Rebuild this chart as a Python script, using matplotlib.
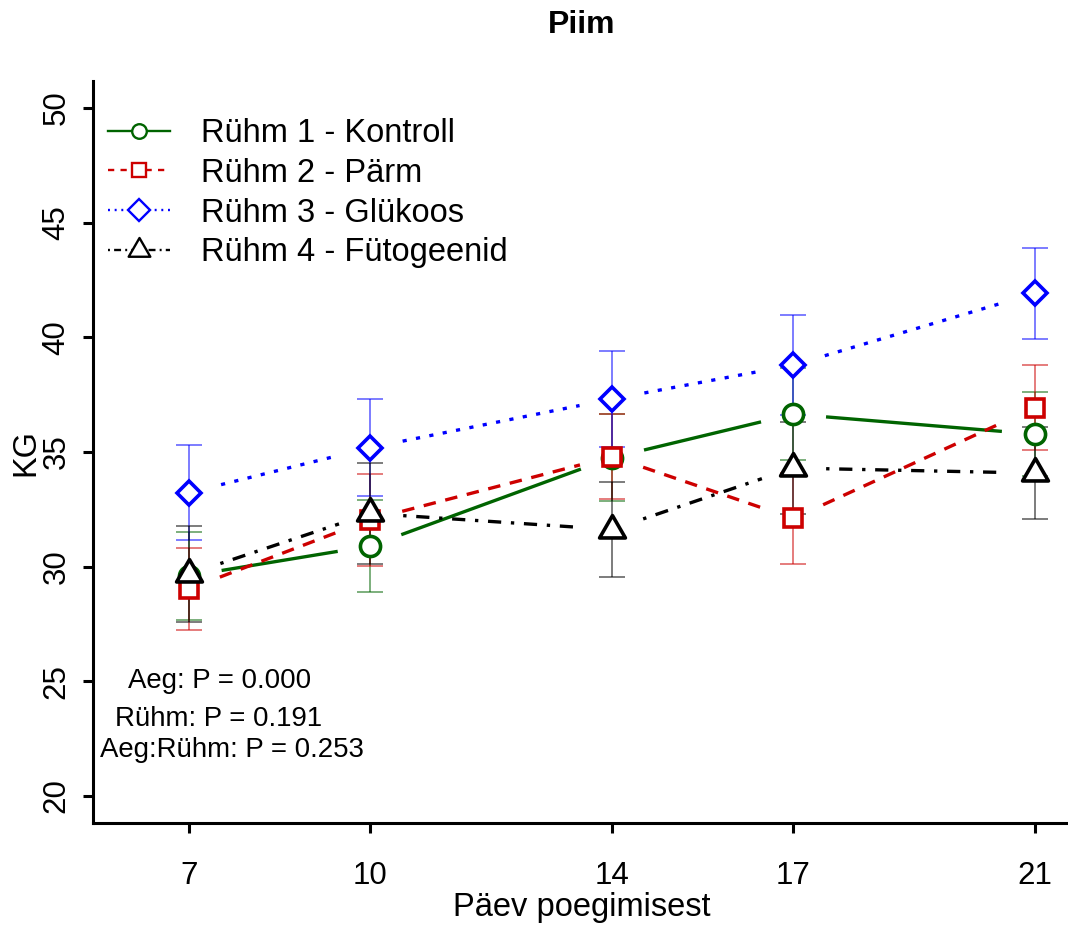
import matplotlib
matplotlib.use("Agg")
import matplotlib.pyplot as plt
from matplotlib.lines import Line2D
from matplotlib.path import Path
import numpy as np

plt.rcParams['font.family'] = ['Liberation Sans', 'DejaVu Sans']
plt.rcParams['lines.scale_dashes'] = False

# Andmed
paevad = [7, 10, 14, 17, 21]
ruhm1 = [29.60, 30.90, 34.75, 36.65, 35.78]
ruhm1_se = [1.92, 2.02, 1.90, 2.00, 1.83]
ruhm2 = [29.03, 32.05, 34.80, 32.10, 36.93]
ruhm2_se = [1.78, 2.00, 1.86, 2.00, 1.86]
ruhm3 = [33.23, 35.19, 37.31, 38.79, 41.92]
ruhm3_se = [2.07, 2.10, 2.11, 2.17, 1.99]
ruhm4 = [29.68, 32.32, 31.62, 34.30, 34.08]
ruhm4_se = [2.09, 2.20, 2.08, 2.00, 2.00]
nimed = ['Rühm 1 - Kontroll', 'Rühm 2 - Pärm', 'Rühm 3 - Glükoos', 'Rühm 4 - Fütogeenid']
p_tekstid = ['Aeg: P = 0.000', 'Rühm: P = 0.191', 'Aeg:Rühm: P = 0.253']

# R-stiilis võrdkülgne kolmnurk (keskpunkt ümberringjoone keskel)
kolmnurk = Path([(0, 1), (-0.866, -0.5), (0.866, -0.5), (0, 1)],
                [Path.MOVETO, Path.LINETO, Path.LINETO, Path.CLOSEPOLY])

rühmad = [
    (ruhm1, ruhm1_se, '#006400', 'o', 14.5, '-'),
    (ruhm2, ruhm2_se, '#CD0000', 's', 12.8, (0, (9, 7))),
    (ruhm3, ruhm3_se, '#0000FF', 'D', 12.5, (0, (3, 6.8))),
    (ruhm4, ruhm4_se, '#000000', kolmnurk, 21.5, (0, (2.4, 7, 9.5, 7))),
]

fig = plt.figure(figsize=(10.68, 9.27), dpi=100)
W, H = 1068, 927
ax = fig.add_axes([93 / W, 1 - 823 / H, 1 - 93 / W, (823 - 81) / H])
ax.set_xlim(5.41, 21.55)
ax.set_ylim(18.82, 51.18)

# vearibad
for y, se, col, m, ms, ls in rühmad:
    ax.errorbar(paevad, y, yerr=se, fmt='none', ecolor=col, elinewidth=1.1,
                capsize=9.5, capthick=1.1, alpha=0.65, zorder=2)

# jooned vahedega (type = "b")
vahe = 33
tr = ax.transData
for y, se, col, m, ms, ls in rühmad:
    pts = tr.transform(np.column_stack([paevad, y]))
    for i in range(len(pts) - 1):
        a, b = pts[i], pts[i + 1]
        d = b - a
        L = np.hypot(*d)
        u = d / L
        seg = tr.inverted().transform(np.vstack([a + u * vahe, b - u * vahe]))
        ax.plot(seg[:, 0], seg[:, 1], color=col, lw=2.4, linestyle=ls,
                solid_capstyle='butt', dash_capstyle='butt', zorder=3)
    ax.plot(paevad, y, linestyle='none', marker=m, markersize=ms,
            markerfacecolor='white', markeredgecolor=col, markeredgewidth=2.6,
            zorder=4)

ax.spines['top'].set_visible(False)
ax.spines['right'].set_visible(False)
for s in ['left', 'bottom']:
    ax.spines[s].set_linewidth(2.2)
ax.set_xticks(paevad)
ax.set_yticks(range(20, 51, 5))
ax.tick_params(axis='both', labelsize=22.5, width=2.2, length=7.5)
ax.tick_params(axis='x', pad=20)
ax.tick_params(axis='y', pad=8)
for lab in ax.get_yticklabels():
    lab.set_rotation(90)
    lab.set_va('center')

# legend
leg_handles = [
    Line2D([], [], color='#006400', lw=1.7, marker='o', markersize=10.5,
           markerfacecolor='white', markeredgewidth=1.7),
    Line2D([], [], color='#CD0000', lw=1.7, linestyle=(0, (4.5, 4.5)), marker='s', markersize=10,
           markerfacecolor='white', markeredgewidth=1.7),
    Line2D([], [], color='#0000FF', lw=1.7, linestyle=(0, (1.4, 3.4)), marker='D', markersize=11,
           markerfacecolor='white', markeredgewidth=1.7),
    Line2D([], [], color='#000000', lw=1.7, linestyle=(0, (1.4, 3, 5, 3)), marker=kolmnurk,
           markersize=18, markerfacecolor='white', markeredgewidth=1.7),
]
fig.legend(leg_handles, nimed, loc='upper left', bbox_to_anchor=(108 / W, 1 - 118 / H),
           frameon=False, fontsize=23.5, borderpad=0, borderaxespad=0,
           handlelength=1.9, handletextpad=0.95, labelspacing=0.27)

# P-väärtused
fig.text(220 / W, 1 - 688 / H, p_tekstid[0], fontsize=19.9, ha='center', va='baseline')
fig.text(219 / W, 1 - 726 / H, p_tekstid[1], fontsize=19.9, ha='center', va='baseline')
fig.text(232 / W, 1 - 757 / H, p_tekstid[2], fontsize=19.9, ha='center', va='baseline')

fig.text(582 / W, 1 - 33 / H, 'Piim', fontsize=23, fontweight='bold', ha='center', va='baseline')
fig.text(582 / W, 1 - 916 / H, 'Päev poegimisest', fontsize=23.5, ha='center', va='baseline')
fig.text(26 / W, 1 - 452 / H, 'KG', fontsize=23.5, rotation=90, ha='center', va='center')

fig.savefig('out.png', dpi=100)
